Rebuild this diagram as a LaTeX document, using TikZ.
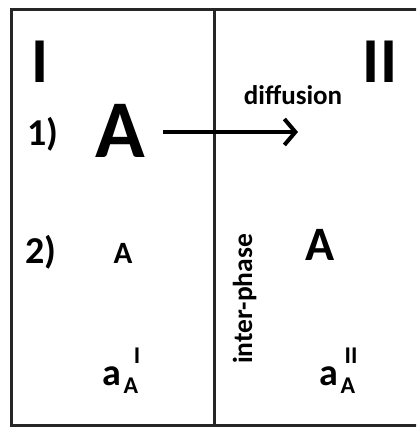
\documentclass[tikz,border=0pt]{standalone}
\usepackage{fontspec}
\setmainfont{Carlito}
\usetikzlibrary{arrows.meta}
\tikzset{
  lbl/.style={inner sep=0pt, anchor=base, font=\bfseries},
  frame/.style={line width=3pt, draw=black!85},
}
\newcommand{\fs}[1]{\fontsize{#1}{#1}\selectfont}
\begin{document}
\begin{tikzpicture}[x=1pt,y=-1pt]
\useasboundingbox (0,0) rectangle (416,427);
\clip (0,0) rectangle (416,427);
% outer frame (open to the right) and interphase line
\draw[frame] (11,9.5) rectangle (430,425);
\draw[frame] (214,9.5) -- (214,425);

% phase labels
\node[lbl, font=\bfseries\fs{64}] (ph1) at (40,83) {I};
\node[lbl, font=\bfseries\fs{64}] (ph2) at (380,83) {II};

% case 1: diffusion across the interphase
\node[lbl, font=\bfseries\fs{38}] (n1) at (43,146) {1)};
\node[lbl, font=\bfseries\fs{82}] (A1) at (120,158) {A};
\node[lbl, font=\bfseries\fs{27}] (dif) at (293,105) {diffusion};
\coordinate (arrS) at (163,132);
\coordinate (arrE) at (298,132);
\draw[line width=4pt, -{Straight Barb[length=11pt,width=26pt,line width=4pt]}] (arrS) -- (arrE);

% case 2: equilibrium
\node[lbl, font=\bfseries\fs{38}] (n2) at (41,263) {2)};
\node[lbl, font=\bfseries\fs{31}] (A2) at (123,263) {A};
\node[lbl, font=\bfseries\fs{48}] (A3) at (320,260) {A};
\node[lbl, font=\bfseries\fs{27.5}, rotate=90] (ip) at (252,299) {inter-phase};

% activities
\node[lbl, font=\bfseries\fs{38}] (a1) at (112,385) {a};
\node[lbl, font=\bfseries\fs{24}] (a1s) at (131,393) {A};
\node[lbl, font=\bfseries\fs{24}] (a1p) at (137,363) {I};
\node[lbl, font=\bfseries\fs{38}] (a2) at (329,385) {a};
\node[lbl, font=\bfseries\fs{24}] (a2s) at (348,393) {A};
\node[lbl, font=\bfseries\fs{24}] (a2p) at (351,363) {II};
\end{tikzpicture}
\end{document}
